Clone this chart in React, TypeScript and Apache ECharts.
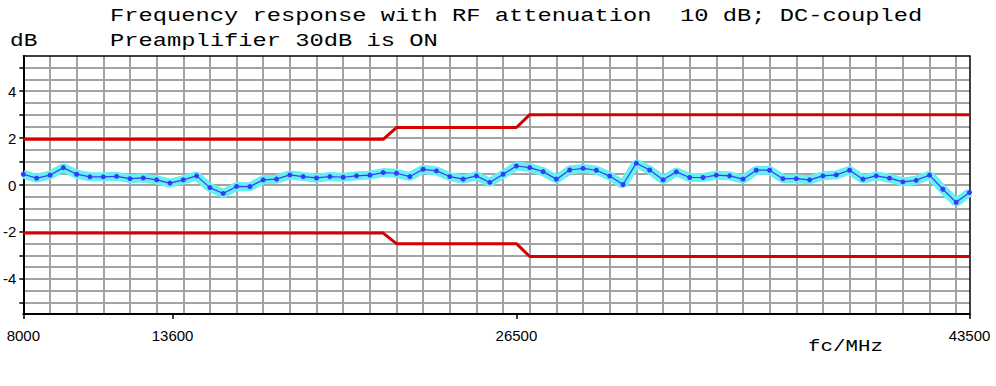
import React, { useEffect, useRef } from 'react';
import * as echarts from 'echarts';

// Measurement frequencies (MHz)
const freqs = [
  8000, 8500, 9000, 9500, 10000, 10500, 11000, 11500, 12000, 12500,
  13000, 13500, 14000, 14500, 15000, 15500, 16000, 16500, 17000, 17500,
  18000, 18500, 19000, 19500, 20000, 20500, 21000, 21500, 22000, 22500,
  23000, 23500, 24000, 24500, 25000, 25500, 26000, 26500, 27000, 27500,
  28000, 28500, 29000, 29500, 30000, 30500, 31000, 31500, 32000, 32500,
  33000, 33500, 34000, 34500, 35000, 35500, 36000, 36500, 37000, 37500,
  38000, 38500, 39000, 39500, 40000, 40500, 41000, 41500, 42000, 42500,
  43000, 43500,
];

// Measured response (dB)
const response = [
  0.46, 0.29, 0.42, 0.74, 0.46, 0.35, 0.35, 0.37, 0.27, 0.30,
  0.22, 0.08, 0.22, 0.39, -0.11, -0.36, -0.06, -0.07, 0.22, 0.25,
  0.43, 0.36, 0.30, 0.36, 0.33, 0.39, 0.42, 0.53, 0.50, 0.36,
  0.67, 0.60, 0.36, 0.25, 0.39, 0.11, 0.46, 0.81, 0.74, 0.57,
  0.25, 0.64, 0.71, 0.63, 0.38, 0.02, 0.93, 0.64, 0.22, 0.56,
  0.32, 0.32, 0.42, 0.39, 0.25, 0.63, 0.63, 0.27, 0.27, 0.22,
  0.39, 0.43, 0.63, 0.25, 0.39, 0.29, 0.13, 0.20, 0.42, -0.18,
  -0.74, -0.32,
];

// Tolerance limits
const limitFreqs = [8000, 21500, 22000, 26500, 27000, 43500];
const upperLimit = [1.95, 1.95, 2.45, 2.45, 3.0, 3.0];
const lowerLimit = [-2.05, -2.05, -2.5, -2.5, -3.05, -3.05];

// Axis labels / ticks
const xLabelValues = [8000, 13600, 26500, 43500];
const yLabelValues = [-4, -2, 0, 2, 4];
const yTickValues = [-5, -4, -3, -2, -1, 0, 1, 2, 3, 4, 5];

const titleLine1 = 'Frequency response with RF attenuation  10 dB; DC-coupled';
const titleLine2 = 'Preamplifier 30dB is ON';
const yUnit = 'dB';
const xUnit = 'fc/MHz';

export default function App() {
  const ref = useRef<HTMLDivElement>(null);

  useEffect(() => {
    if (!ref.current) return;
    const chart = echarts.init(ref.current, undefined, { renderer: 'svg' });
    const pts = freqs.map((f, i) => [f, response[i]]);
    const mono = '"Liberation Mono", "DejaVu Sans Mono", monospace';
    const gridColor = '#a3a3a3';

    chart.setOption({
      animation: false,
      backgroundColor: '#ffffff',
      grid: { left: 23.3, right: 26.5, top: 56, bottom: 72, show: false },
      xAxis: [
        {
          type: 'value', min: 8000, max: 43500, position: 'bottom', z: 1,
          axisLine: { show: true, onZero: false, lineStyle: { color: '#000', width: 2 } },
          axisTick: { show: true, customValues: xLabelValues, length: 5, lineStyle: { color: '#000', width: 1.5 } },
          axisLabel: {
            show: true, customValues: xLabelValues, margin: 14, fontSize: 15,
            fontFamily: '"Liberation Sans", Arial, sans-serif', color: '#000',
            formatter: (v: number) => String(v),
          },
          splitLine: { show: false },
        },
        {
          type: 'value', min: 8000, max: 43500, interval: 1000, position: 'top', z: 0,
          axisLine: { show: true, onZero: false, lineStyle: { color: '#000', width: 1.5 } },
          axisTick: { show: false },
          axisLabel: { show: false },
          splitLine: { show: true, showMinLine: false, showMaxLine: false, lineStyle: { color: gridColor, width: 2 } },
        },
      ],
      yAxis: [
        {
          type: 'value', min: -5.5, max: 5.5, position: 'left', z: 1,
          axisLine: { show: true, onZero: false, lineStyle: { color: '#000', width: 2 } },
          axisTick: { show: true, customValues: yTickValues, length: 4, lineStyle: { color: '#000', width: 1.5 } },
          axisLabel: {
            show: true, customValues: yLabelValues, margin: 7, fontSize: 15,
            fontFamily: '"Liberation Sans", Arial, sans-serif', color: '#000',
            formatter: (v: number) => String(v),
          },
          splitLine: { show: false },
        },
        {
          type: 'value', min: -5.5, max: 5.5, interval: 0.5, position: 'right', z: 0,
          axisLine: { show: true, onZero: false, lineStyle: { color: '#000', width: 1.5 } },
          axisTick: { show: false },
          axisLabel: { show: false },
          splitLine: { show: true, showMinLine: false, showMaxLine: false, lineStyle: { color: gridColor, width: 2 } },
        },
      ],
      series: [
        {
          type: 'line', xAxisIndex: 0, yAxisIndex: 0, data: pts, symbol: 'none', z: 2,
          lineStyle: { color: '#66f0f0', width: 9 },
        },
        {
          type: 'line', xAxisIndex: 0, yAxisIndex: 0, data: limitFreqs.map((f, i) => [f, upperLimit[i]]),
          symbol: 'none', z: 2, lineStyle: { color: '#d40000', width: 3 },
        },
        {
          type: 'line', xAxisIndex: 0, yAxisIndex: 0, data: limitFreqs.map((f, i) => [f, lowerLimit[i]]),
          symbol: 'none', z: 2, lineStyle: { color: '#d40000', width: 3 },
        },
        {
          type: 'line', xAxisIndex: 0, yAxisIndex: 0, data: pts, symbol: 'circle', symbolSize: 5,
          showAllSymbol: true, z: 3,
          lineStyle: { color: '#3040ff', width: 1.2 },
          itemStyle: { color: '#3838ff' },
        },
      ],
      graphic: [
        {
          type: 'text', x: 110, y: 16, scaleX: 1.25,
          style: { text: titleLine1, font: `19px ${mono}`, fill: '#000', align: 'left', verticalAlign: 'middle' },
        },
        {
          type: 'text', x: 110, y: 41, scaleX: 1.25,
          style: { text: titleLine2, font: `19px ${mono}`, fill: '#000', align: 'left', verticalAlign: 'middle' },
        },
        {
          type: 'text', x: 10, y: 41, scaleX: 1.2,
          style: { text: yUnit, font: `19px ${mono}`, fill: '#000', align: 'left', verticalAlign: 'middle' },
        },
        {
          type: 'text', x: 808, y: 347, scaleX: 1.3,
          style: { text: xUnit, font: `16px ${mono}`, fill: '#000', align: 'left', verticalAlign: 'middle' },
        },
      ],
    });

    return () => chart.dispose();
  }, []);

  return (
    <div
      ref={ref}
      style={{ position: 'fixed', left: 0, top: 0, width: 996, height: 386, background: '#fff' }}
    />
  );
}
